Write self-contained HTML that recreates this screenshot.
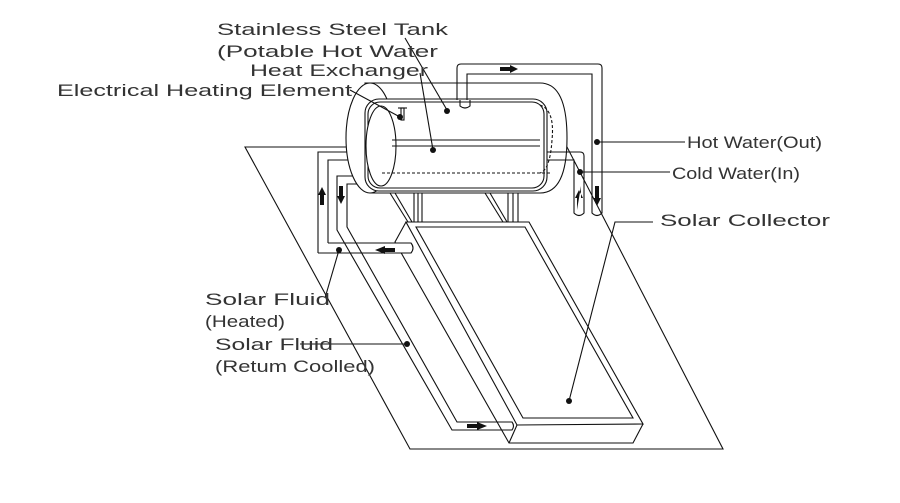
<!DOCTYPE html>
<html><head><meta charset="utf-8"><style>
html,body{margin:0;padding:0;background:#fff;}
svg{display:block}
text{font-family:"Liberation Sans",sans-serif;font-size:17px;fill:#333;font-weight:normal}
</style></head><body>
<svg width="900" height="503" viewBox="0 0 900 503" xmlns="http://www.w3.org/2000/svg">
<g fill="none" stroke="#111" stroke-width="1.1">
<!-- ground parallelogram -->
<polygon points="245,147 567,147 723,449 410,449"/>
<!-- legs -->
<line x1="414" y1="193" x2="414" y2="222"/><line x1="418" y1="193" x2="418" y2="222"/>
<line x1="422" y1="193" x2="422" y2="222"/>
<line x1="508" y1="193" x2="508" y2="222"/><line x1="513" y1="193" x2="513" y2="222"/>
<line x1="518" y1="193" x2="518" y2="222"/>
<line x1="390" y1="193" x2="408" y2="222"/><line x1="395" y1="193" x2="412" y2="222"/>
<line x1="485" y1="193" x2="503" y2="222"/><line x1="490" y1="193" x2="507" y2="222"/>
<!-- collector -->
<polygon points="406,222 529,222 643,424 517,425" fill="#fff"/>
<polygon points="416,227 525,227 633,418 523,418"/>
<polyline points="406,222 395,242 509,443 633,443 643,424"/>
<line x1="517" y1="425" x2="509" y2="443"/>
<!-- left pipe (heated) -->
<path d="M318,253 L318,152 L385,152 M328,243 L328,160 L385,160 M318,253 L411,253 Q415,248 411,243 L328,243" fill="#fff"/>
<!-- return pipe -->
<path d="M337,195 L337,176 L370,176 M347,195 L347,184 L370,184"/>
<path d="M337,195 L337,230 L452,430 L512,430 Q515,426 512,422 L457,422 L347,227 L347,195"/>
<!-- tank -->
<path d="M365,83 L540,83 Q567,83 567,138 Q567,193 540,193 L370,193 Z" fill="#fff"/>
<ellipse cx="370" cy="138" rx="24" ry="55" fill="#fff"/>
<rect x="365" y="99" width="182" height="92" rx="14" fill="#fff"/>
<rect x="368" y="102" width="176" height="86" rx="12"/>
<ellipse cx="381" cy="146" rx="15" ry="40" fill="#fff"/>
<line x1="392" y1="140" x2="540" y2="140"/><line x1="392" y1="146" x2="540" y2="146"/>
<line x1="382" y1="173" x2="550" y2="173" stroke-dasharray="3,2"/>
<path d="M540,105 Q555,110 552,140 Q550,170 540,173" stroke-dasharray="3,2"/>
<path d="M460,100 L460,106 Q465,110 470,106 L470,100"/>
<rect x="401" y="108" width="3" height="12"/><line x1="398" y1="108" x2="407" y2="108"/>
<!-- hot water pipe -->
<path d="M457,100 L457,68 Q457,64 461,64 L598,64 Q602,64 602,68 L602,213 Q597,218 592,213 L592,74 L467,74 L467,100"/>
<!-- cold water pipe -->
<path d="M547,152 L580,152 Q584,152 584,156 L584,213 Q579,218 574,213 L574,160 L547,160"/>
<!-- leaders -->
<polyline points="405,38 447,110"/>
<polyline points="420,73 433,150"/>
<polyline points="350,90 400,117"/>
<line x1="597" y1="142" x2="685" y2="142"/>
<line x1="580" y1="172" x2="670" y2="172"/>
<polyline points="653,222 615,222 569,401"/>
<polyline points="339,250 325,298"/>
<polyline points="300,344 407,344"/>
</g>
<g fill="#111">
<circle cx="447" cy="111" r="3"/><circle cx="433" cy="150" r="3"/><circle cx="400" cy="117" r="3"/>
<circle cx="597" cy="142" r="3"/><circle cx="580" cy="172" r="3"/><circle cx="569" cy="401" r="3"/>
<circle cx="339" cy="250" r="3"/><circle cx="407" cy="344" r="3"/>
<polygon points="500,67 510,67 510,65 518,69 510,73 510,71 500,71"/>
<polygon points="595,186 595,198 593,198 597,206 601,198 599,198 599,186"/>
<polygon points="577,210 577,198 575,198 579,190 583,198 581,198 581,186"/>
<polygon points="320,205 320,195 318,195 322,187 326,195 324,195 324,205"/>
<polygon points="339,186 339,196 337,196 341,204 345,196 343,196 343,186"/>
<polygon points="395,248 385,248 385,246 375,250 385,254 385,252 395,252"/>
<polygon points="467,424 477,424 477,422 487,426 477,430 477,428 467,428"/>
</g>
<text x="217" y="35" textLength="231" lengthAdjust="spacingAndGlyphs">Stainless Steel Tank</text>
<text x="217" y="57" textLength="221" lengthAdjust="spacingAndGlyphs">(Potable Hot Water</text>
<text x="250" y="76" textLength="178" lengthAdjust="spacingAndGlyphs">Heat Exchanger</text>
<text x="57" y="96" textLength="295" lengthAdjust="spacingAndGlyphs">Electrical Heating Element</text>
<text x="687" y="148" textLength="135" lengthAdjust="spacingAndGlyphs">Hot Water(Out)</text>
<text x="672" y="179" textLength="128" lengthAdjust="spacingAndGlyphs">Cold Water(In)</text>
<text x="660" y="226" textLength="170" lengthAdjust="spacingAndGlyphs">Solar Collector</text>
<text x="205" y="305" textLength="125" lengthAdjust="spacingAndGlyphs">Solar Fluid</text>
<text x="205" y="327" textLength="80" lengthAdjust="spacingAndGlyphs">(Heated)</text>
<text x="215" y="350" textLength="118" lengthAdjust="spacingAndGlyphs">Solar Fluid</text>
<text x="215" y="372" textLength="160" lengthAdjust="spacingAndGlyphs">(Retum Coolled)</text>
</svg>
</body></html>
